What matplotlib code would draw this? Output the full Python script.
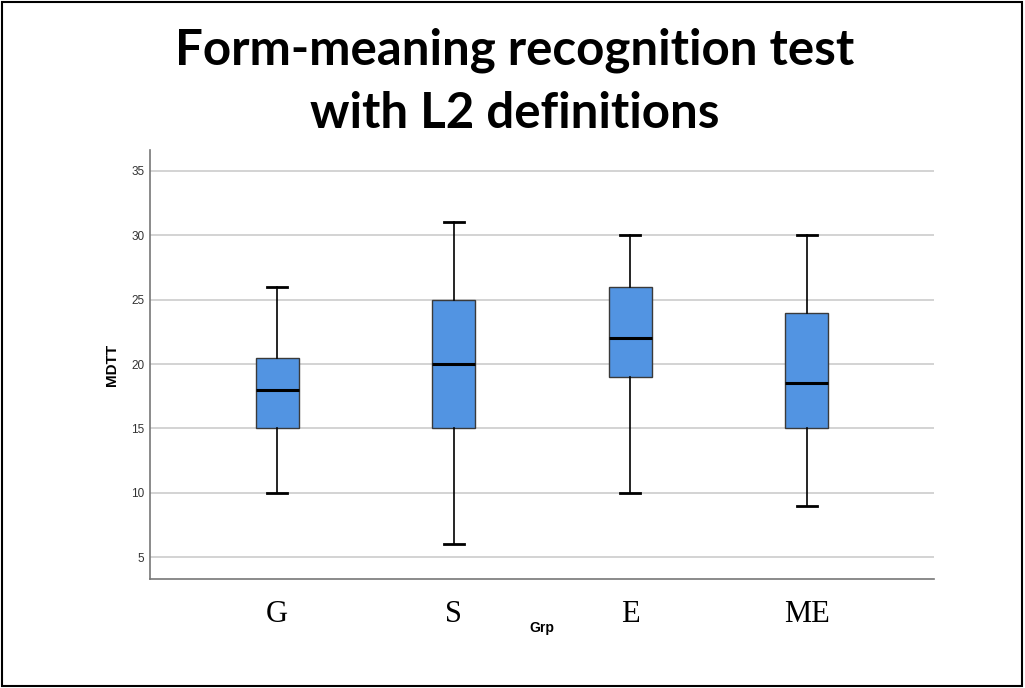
import matplotlib
matplotlib.use("Agg")
import matplotlib.pyplot as plt
from matplotlib.patches import Rectangle

groups = ["G", "S", "E", "ME"]
whisker_low = [10, 6, 10, 9]
q1 = [15, 15, 19, 15]
medians = [18, 20, 22, 18.5]
q3 = [20.5, 25, 26, 24]
whisker_high = [26, 31, 30, 30]
yticks = [5, 10, 15, 20, 25, 30, 35]

fig = plt.figure(figsize=(10.25, 6.88), dpi=100)
ax = fig.add_axes([150/1025, 1-579/688, (934-150)/1025, (579-150)/688])

stats = []
for g, lo, a, m, b, hi in zip(groups, whisker_low, q1, medians, q3, whisker_high):
    stats.append(dict(label=g, whislo=lo, q1=a, med=m, q3=b, whishi=hi, fliers=[]))

ax.bxp(stats, positions=range(len(groups)), widths=0.245, patch_artist=True,
       showfliers=False, capwidths=0.115,
       boxprops=dict(facecolor="#5294E2", edgecolor="#3a3a3a", linewidth=1.0),
       medianprops=dict(color="black", linewidth=2.2),
       whiskerprops=dict(color="black", linewidth=1.2),
       capprops=dict(color="black", linewidth=2.0),
       zorder=3)

ax.set_xlim(-0.72, 3.72)
ax.set_ylim(3.3, 36.63)
ax.set_yticks(yticks)
ax.set_yticklabels([str(v) for v in yticks], fontsize=8.5, color="#333333",
                   family="Liberation Sans")
ax.tick_params(axis="y", length=0, pad=4)
ax.tick_params(axis="x", length=0, pad=15)
ax.set_xticks(range(len(groups)))
ax.set_xticklabels(groups, fontsize=22, family="Liberation Serif", color="black")
ax.grid(axis="y", color="#cccccc", linewidth=1.2, zorder=0)
ax.set_axisbelow(True)
for s in ["top", "right"]:
    ax.spines[s].set_visible(False)
for s in ["left", "bottom"]:
    ax.spines[s].set_color("#777777")
    ax.spines[s].set_linewidth(1.2)

ax.set_ylabel("MDTT", fontsize=11, fontweight="bold", family="Liberation Sans", labelpad=9)
fig.text(542/1025, 1-628/688, "Grp", ha="center", va="center", fontsize=10,
         fontweight="bold", family="Liberation Sans")

fig.text(515/1025, 1-50/688, "Form-meaning recognition test", ha="center", va="center",
         fontsize=35.5, fontweight="bold", family="Lato")
fig.text(515/1025, 1-113/688, "with L2 definitions", ha="center", va="center",
         fontsize=35.5, fontweight="bold", family="Lato")

fig.patches.append(Rectangle((2/1025, 2/688), 1020/1025, 684/688, transform=fig.transFigure,
                             fill=False, edgecolor="black", linewidth=1.5))

fig.savefig("out.png", dpi=100)
